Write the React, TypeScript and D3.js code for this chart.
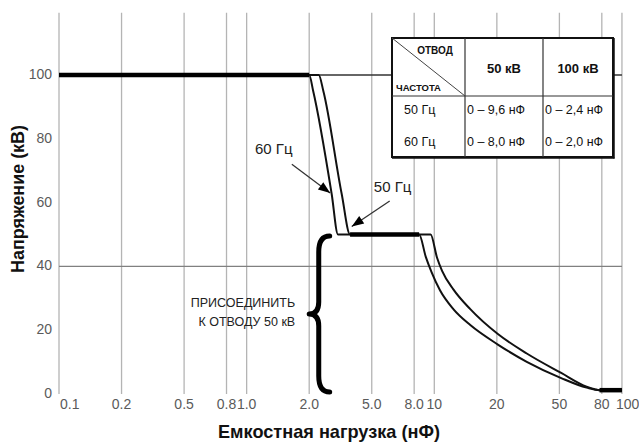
import React from "react";
import * as d3 from "d3";

const W = 639;
const H = 445;

// axis breaks: each 1-2-5 step takes the same width on the chart
const xBreaks = [0.1, 0.2, 0.5, 1, 2, 5, 10, 20, 50, 100];
const xTicks = [0.1, 0.2, 0.5, 0.8, 1, 2, 5, 8, 10, 20, 50, 80, 100];
const xTickLabels = ["0.1", "0.2", "0.5", "0.8", "1.0", "2.0", "5.0", "8.0", "10", "20", "50", "80", "100"];
const yTicks = [0, 20, 40, 60, 80, 100];
const yRefLines = [100, 40];

// capacitance (nF) -> max voltage (kV)
const curve60: [number, number][] = [
  [0.1, 100], [2.0, 100], [2.12, 95], [2.78, 62.7], [3.05, 50], [3.64, 50], [8.45, 50],
  [9.1, 43], [9.7, 38.2], [10.65, 32.5], [12.35, 26.6], [14.9, 21.6], [20.3, 15.5],
  [31, 10.1], [51, 5], [67.6, 2.0], [78, 1.2], [100, 1.2],
];
const curve50: [number, number][] = [
  [0.1, 100], [2.0, 100], [2.3, 100], [2.46, 95], [3.22, 62.7], [3.64, 50], [8.45, 50],
  [9.6, 50], [10.3, 42.8], [10.9, 38.6], [12.35, 32.8], [14.9, 26.6], [20.3, 18.8],
  [31, 12.7], [51, 6.6], [67.6, 2.3], [74, 1.5], [78, 1.2], [100, 1.2],
];

const tableHead = ["50 кВ", "100 кВ"];
const tableFreq = ["50 Гц", "60 Гц"];
const table50 = ["0 – 9,6 нФ", "0 – 8,0 нФ"];
const table100 = ["0 – 2,4 нФ", "0 – 2,0 нФ"];

const arrowNotes = [
  { label: "60 Гц", at: [1.35, 77], from: [1.65, 72], to: [2.72, 63] },
  { label: "50 Гц", at: [6.3, 65], from: [6.1, 60.5], to: [3.73, 52.5] },
];
const brace = { tip: 2.0, body: 2.3, end: 2.7, lo: 0.6, hi: 49.5 };
const braceText = ["ПРИСОЕДИНИТЬ", "К ОТВОДУ 50 кВ"];

const left = 59;
const step = 62.55;

const x = d3.scaleLog().domain(xBreaks).range(xBreaks.map((_, i) => left + i * step));
const y = d3.scaleLinear().domain([0, 100]).range([394, 75]);

const line = d3
  .line<[number, number]>()
  .x((d) => x(d[0]))
  .y((d) => y(d[1]))
  .curve(d3.curveMonotoneX);

// segments both curves run along together get the heavy stroke
const shared: [number, number][][] = [];
for (let i = 0; i < curve60.length - 1; i++) {
  const a = curve60[i], b = curve60[i + 1];
  const j = curve50.findIndex((p) => p[0] === a[0] && p[1] === a[1]);
  if (j >= 0 && j < curve50.length - 1 && curve50[j + 1][0] === b[0] && curve50[j + 1][1] === b[1]) {
    shared.push([a, b]);
  }
}

const FONT = "'Liberation Sans', Arial, sans-serif";

function arrowHead(x1: number, y1: number, x2: number, y2: number) {
  const a = Math.atan2(y2 - y1, x2 - x1);
  const len = 12, half = 4.5;
  const bx = x2 - len * Math.cos(a), by = y2 - len * Math.sin(a);
  const px = -Math.sin(a) * half, py = Math.cos(a) * half;
  return `M${x2},${y2}L${bx + px},${by + py}L${bx - px},${by - py}Z`;
}

const App = () => {
  const gridTop = y(119.5);
  const gridBottom = y(0);

  const tb = { x0: 392, x1: 465, x2: 543, x3: 613, y0: 38, y1: 96, y2: 157 };
  const rowY = [109.5, 142];

  const bt = x(brace.tip), bb = x(brace.body), be = x(brace.end);
  const yl = y(brace.lo), yh = y(brace.hi), ym = (yl + yh) / 2;
  const bracePath =
    `M${be},${yh} Q${bb},${yh} ${bb},${yh + 16} L${bb},${ym - 12} Q${bb},${ym} ${bt},${ym}` +
    ` Q${bb},${ym} ${bb},${ym + 12} L${bb},${yl - 16} Q${bb},${yl} ${be},${yl}`;

  const last = xTicks.length - 1;

  return (
    <svg width={W} height={H} style={{ position: "absolute", left: 0, top: 0, background: "#fff" }}>
      {/* vertical grid */}
      {xTicks.map((t) => (
        <line key={t} x1={x(t)} x2={x(t)} y1={gridTop} y2={gridBottom} stroke="#b4b4b4" strokeWidth={1.3} />
      ))}
      {/* horizontal reference lines */}
      {yRefLines.map((v) => (
        <line key={v} x1={x(0.1)} x2={x(100)} y1={y(v)} y2={y(v)} stroke={v === 100 ? "#333" : "#808080"} strokeWidth={1.4} />
      ))}

      {/* tick labels */}
      {xTicks.map((t, i) => (
        <text
          key={t}
          x={i === 0 ? x(t) + 1 : i === last ? x(t) - 6 : x(t)}
          y={404}
          textAnchor={i === 0 || i === last ? "start" : "middle"}
          dominantBaseline="central"
          fontFamily={FONT}
          fontSize={14}
          fill="#5a5a5a"
        >
          {xTickLabels[i]}
        </text>
      ))}
      {yTicks.map((t) => (
        <text key={t} x={52} y={y(t) - 1} textAnchor="end" dominantBaseline="central" fontFamily={FONT} fontSize={14} fill="#5a5a5a">
          {t}
        </text>
      ))}

      {/* table */}
      <g fontFamily={FONT} fill="#111">
        <rect x={tb.x0} y={tb.y0} width={tb.x3 - tb.x0} height={tb.y2 - tb.y0} fill="#fff" stroke="#111" strokeWidth={2} />
        <line x1={tb.x3 + 1} x2={tb.x3 + 1} y1={tb.y0} y2={tb.y2 + 1.5} stroke="#111" strokeWidth={1.5} />
        <line x1={tb.x0} x2={tb.x3 + 1.5} y1={tb.y2 + 1} y2={tb.y2 + 1} stroke="#111" strokeWidth={1.5} />
        <line x1={tb.x1} x2={tb.x1} y1={tb.y0} y2={tb.y2} stroke="#333" strokeWidth={1.2} />
        <line x1={tb.x2} x2={tb.x2} y1={tb.y0} y2={tb.y2} stroke="#333" strokeWidth={1.2} />
        <line x1={tb.x0} x2={tb.x3} y1={tb.y1} y2={tb.y1} stroke="#333" strokeWidth={1.2} />
        <line x1={tb.x0} x2={tb.x1} y1={tb.y0} y2={tb.y1} stroke="#444" strokeWidth={1} />
        <text x={435} y={50} textAnchor="middle" dominantBaseline="central" fontSize={10} fontWeight="bold">ОТВОД</text>
        <text x={396} y={87} textAnchor="start" dominantBaseline="central" fontSize={9.5} fontWeight="bold">ЧАСТОТА</text>
        {tableHead.map((h, i) => (
          <text key={h} x={i === 0 ? (tb.x1 + tb.x2) / 2 : (tb.x2 + tb.x3) / 2} y={68} textAnchor="middle" dominantBaseline="central" fontSize={13} fontWeight="bold">
            {h}
          </text>
        ))}
        {tableFreq.map((f, i) => (
          <g key={f} fontSize={12.5}>
            <text x={404} y={rowY[i]} dominantBaseline="central">{f}</text>
            <text x={tb.x1 + 2} y={rowY[i]} dominantBaseline="central">{table50[i]}</text>
            <text x={tb.x2 + 2} y={rowY[i]} dominantBaseline="central">{table100[i]}</text>
          </g>
        ))}
      </g>

      {/* curves */}
      <path d={line(curve60) || ""} fill="none" stroke="#111" strokeWidth={2} />
      <path d={line(curve50) || ""} fill="none" stroke="#111" strokeWidth={2} />
      {shared.map((s, i) => (
        <path key={i} d={d3.line<[number, number]>().x((d) => x(d[0])).y((d) => y(d[1]))(s) || ""} fill="none" stroke="#000" strokeWidth={4.5} />
      ))}

      {/* arrows */}
      {arrowNotes.map((n) => {
        const x1 = x(n.from[0]), y1 = y(n.from[1]), x2 = x(n.to[0]), y2 = y(n.to[1]);
        return (
          <g key={n.label}>
            <line x1={x1} y1={y1} x2={x2} y2={y2} stroke="#333" strokeWidth={1.3} />
            <path d={arrowHead(x1, y1, x2, y2)} fill="#000" />
            <text x={x(n.at[0])} y={y(n.at[1])} textAnchor="middle" dominantBaseline="central" fontFamily={FONT} fontSize={15} fill="#222">
              {n.label}
            </text>
          </g>
        );
      })}

      {/* brace */}
      <path d={bracePath} fill="none" stroke="#000" strokeWidth={5} strokeLinecap="round" strokeLinejoin="round" />
      {braceText.map((t, i) => (
        <text key={t} x={bt - 14} y={ym + (i === 0 ? -11 : 8)} textAnchor="end" dominantBaseline="central" fontFamily={FONT} fontSize={12.5} fill="#222">
          {t}
        </text>
      ))}

      {/* axis titles */}
      <text
        transform="translate(17,199) rotate(-90)"
        textAnchor="middle"
        dominantBaseline="central"
        fontFamily={FONT}
        fontSize={19}
        fontWeight="bold"
        fill="#111"
        textLength={148}
        lengthAdjust="spacingAndGlyphs"
      >
        Напряжение (кВ)
      </text>
      <text
        x={329}
        y={431}
        textAnchor="middle"
        dominantBaseline="central"
        fontFamily={FONT}
        fontSize={19}
        fontWeight="bold"
        fill="#111"
        textLength={222}
        lengthAdjust="spacingAndGlyphs"
      >
        Емкостная нагрузка (нФ)
      </text>
    </svg>
  );
};

export default App;
